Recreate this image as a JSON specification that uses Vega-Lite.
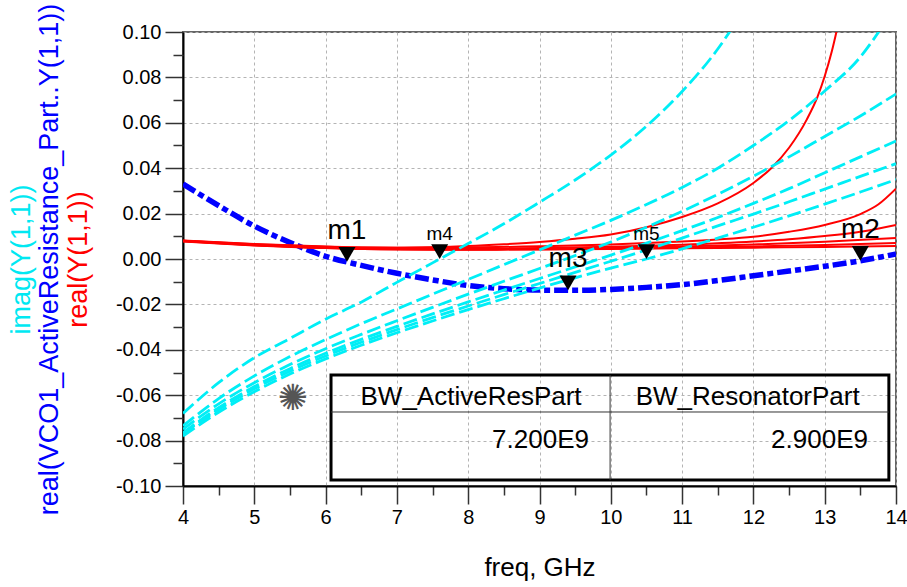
{
  "$schema": "https://vega.github.io/schema/vega-lite/v6.json",
  "width": 713,
  "height": 454,
  "autosize": {"type": "none"},
  "padding": {"left": 183, "top": 32, "right": 11, "bottom": 101},
  "background": "white",
  "config": {
    "font": "Liberation Sans",
    "view": {"stroke": "#666666", "strokeWidth": 2, "fill": "white"},
    "axis": {"labelFont": "Liberation Sans", "titleFont": "Liberation Sans", "titleFontWeight": "normal", "labelColor": "black", "labelFlush": false, "labelOverlap": false}
  },
  "datasets": {
    "active": [
      {"freq": 4, "value": 0.033}, {"freq": 4.5, "value": 0.0235}, {"freq": 5, "value": 0.0145}, {"freq": 5.5, "value": 0.0073},
      {"freq": 6, "value": 0.0012}, {"freq": 6.5, "value": -0.0028}, {"freq": 7, "value": -0.0063}, {"freq": 7.5, "value": -0.0092},
      {"freq": 8, "value": -0.0117}, {"freq": 8.5, "value": -0.0131}, {"freq": 9, "value": -0.0137}, {"freq": 9.5, "value": -0.0138},
      {"freq": 10, "value": -0.0134}, {"freq": 10.5, "value": -0.0125}, {"freq": 11, "value": -0.0113}, {"freq": 11.5, "value": -0.0095},
      {"freq": 12, "value": -0.0074}, {"freq": 12.5, "value": -0.0053}, {"freq": 13, "value": -0.0032}, {"freq": 13.5, "value": -0.0008},
      {"freq": 14, "value": 0.0022}
    ],
    "realY": [
      {"trace": "R1", "freq": 4, "value": 0.0082}, {"trace": "R1", "freq": 5, "value": 0.0066}, {"trace": "R1", "freq": 6, "value": 0.0055},
      {"trace": "R1", "freq": 6.5, "value": 0.0051}, {"trace": "R1", "freq": 7, "value": 0.005}, {"trace": "R1", "freq": 7.5, "value": 0.0052},
      {"trace": "R1", "freq": 8, "value": 0.0057}, {"trace": "R1", "freq": 8.5, "value": 0.0065}, {"trace": "R1", "freq": 9, "value": 0.0075},
      {"trace": "R1", "freq": 9.5, "value": 0.0089}, {"trace": "R1", "freq": 10, "value": 0.0108}, {"trace": "R1", "freq": 10.5, "value": 0.014},
      {"trace": "R1", "freq": 11, "value": 0.0185}, {"trace": "R1", "freq": 11.5, "value": 0.0245}, {"trace": "R1", "freq": 12, "value": 0.0335},
      {"trace": "R1", "freq": 12.25, "value": 0.04}, {"trace": "R1", "freq": 12.5, "value": 0.049}, {"trace": "R1", "freq": 12.75, "value": 0.0615},
      {"trace": "R1", "freq": 12.9, "value": 0.0715}, {"trace": "R1", "freq": 13, "value": 0.0805}, {"trace": "R1", "freq": 13.1, "value": 0.0915},
      {"trace": "R1", "freq": 13.2, "value": 0.105},
      {"trace": "R2", "freq": 4, "value": 0.008}, {"trace": "R2", "freq": 5, "value": 0.0065}, {"trace": "R2", "freq": 6, "value": 0.0054},
      {"trace": "R2", "freq": 7, "value": 0.005}, {"trace": "R2", "freq": 8, "value": 0.0051}, {"trace": "R2", "freq": 9, "value": 0.0056},
      {"trace": "R2", "freq": 10, "value": 0.0064}, {"trace": "R2", "freq": 10.5, "value": 0.007}, {"trace": "R2", "freq": 11, "value": 0.0077},
      {"trace": "R2", "freq": 11.5, "value": 0.0086}, {"trace": "R2", "freq": 12, "value": 0.0098}, {"trace": "R2", "freq": 12.5, "value": 0.012},
      {"trace": "R2", "freq": 13, "value": 0.015}, {"trace": "R2", "freq": 13.5, "value": 0.0198}, {"trace": "R2", "freq": 13.75, "value": 0.024},
      {"trace": "R2", "freq": 14, "value": 0.031},
      {"trace": "R3", "freq": 4, "value": 0.008}, {"trace": "R3", "freq": 5, "value": 0.0063}, {"trace": "R3", "freq": 6, "value": 0.0051},
      {"trace": "R3", "freq": 7, "value": 0.0046}, {"trace": "R3", "freq": 8, "value": 0.0045}, {"trace": "R3", "freq": 9, "value": 0.0048},
      {"trace": "R3", "freq": 10, "value": 0.0054}, {"trace": "R3", "freq": 11, "value": 0.0063}, {"trace": "R3", "freq": 12, "value": 0.0077},
      {"trace": "R3", "freq": 12.5, "value": 0.0087}, {"trace": "R3", "freq": 13, "value": 0.0101}, {"trace": "R3", "freq": 13.5, "value": 0.012},
      {"trace": "R3", "freq": 14, "value": 0.015},
      {"trace": "R4", "freq": 4, "value": 0.0079}, {"trace": "R4", "freq": 5, "value": 0.0062}, {"trace": "R4", "freq": 6, "value": 0.005},
      {"trace": "R4", "freq": 7, "value": 0.0044}, {"trace": "R4", "freq": 8, "value": 0.0043}, {"trace": "R4", "freq": 9, "value": 0.0045},
      {"trace": "R4", "freq": 10, "value": 0.0049}, {"trace": "R4", "freq": 11, "value": 0.0055}, {"trace": "R4", "freq": 12, "value": 0.0064},
      {"trace": "R4", "freq": 13, "value": 0.0076}, {"trace": "R4", "freq": 14, "value": 0.0093},
      {"trace": "R5", "freq": 4, "value": 0.0078}, {"trace": "R5", "freq": 5, "value": 0.0061}, {"trace": "R5", "freq": 6, "value": 0.0049},
      {"trace": "R5", "freq": 7, "value": 0.0043}, {"trace": "R5", "freq": 8, "value": 0.0042}, {"trace": "R5", "freq": 9, "value": 0.0043},
      {"trace": "R5", "freq": 10, "value": 0.0046}, {"trace": "R5", "freq": 11, "value": 0.005}, {"trace": "R5", "freq": 12, "value": 0.0055},
      {"trace": "R5", "freq": 13, "value": 0.0062}, {"trace": "R5", "freq": 14, "value": 0.007},
      {"trace": "R6", "freq": 4, "value": 0.0077}, {"trace": "R6", "freq": 5, "value": 0.006}, {"trace": "R6", "freq": 6, "value": 0.0048},
      {"trace": "R6", "freq": 7, "value": 0.0042}, {"trace": "R6", "freq": 8, "value": 0.0041}, {"trace": "R6", "freq": 9, "value": 0.0042},
      {"trace": "R6", "freq": 10, "value": 0.0044}, {"trace": "R6", "freq": 11, "value": 0.0047}, {"trace": "R6", "freq": 12, "value": 0.005},
      {"trace": "R6", "freq": 13, "value": 0.0053}, {"trace": "R6", "freq": 14, "value": 0.0057}
    ],
    "imag": [
      {"trace": "C1", "freq": 4, "value": -0.068}, {"trace": "C1", "freq": 4.5, "value": -0.0545}, {"trace": "C1", "freq": 5, "value": -0.0435},
      {"trace": "C1", "freq": 5.5, "value": -0.035}, {"trace": "C1", "freq": 6, "value": -0.0265}, {"trace": "C1", "freq": 6.5, "value": -0.019},
      {"trace": "C1", "freq": 7, "value": -0.0103}, {"trace": "C1", "freq": 7.5, "value": -0.0017}, {"trace": "C1", "freq": 8, "value": 0.0068},
      {"trace": "C1", "freq": 8.5, "value": 0.0155}, {"trace": "C1", "freq": 9, "value": 0.025}, {"trace": "C1", "freq": 9.5, "value": 0.0348},
      {"trace": "C1", "freq": 10, "value": 0.0458}, {"trace": "C1", "freq": 10.5, "value": 0.0585}, {"trace": "C1", "freq": 11, "value": 0.0738},
      {"trace": "C1", "freq": 11.5, "value": 0.0925}, {"trace": "C1", "freq": 11.75, "value": 0.104},
      {"trace": "C2", "freq": 4, "value": -0.0735}, {"trace": "C2", "freq": 4.5, "value": -0.0615}, {"trace": "C2", "freq": 5, "value": -0.0515},
      {"trace": "C2", "freq": 5.5, "value": -0.043}, {"trace": "C2", "freq": 6, "value": -0.0355}, {"trace": "C2", "freq": 6.5, "value": -0.0285},
      {"trace": "C2", "freq": 7, "value": -0.022}, {"trace": "C2", "freq": 7.5, "value": -0.0155}, {"trace": "C2", "freq": 8, "value": -0.009},
      {"trace": "C2", "freq": 8.5, "value": -0.0025}, {"trace": "C2", "freq": 9, "value": 0.004}, {"trace": "C2", "freq": 9.5, "value": 0.0105},
      {"trace": "C2", "freq": 10, "value": 0.017}, {"trace": "C2", "freq": 10.5, "value": 0.024}, {"trace": "C2", "freq": 11, "value": 0.0315},
      {"trace": "C2", "freq": 11.5, "value": 0.04}, {"trace": "C2", "freq": 12, "value": 0.05}, {"trace": "C2", "freq": 12.5, "value": 0.061},
      {"trace": "C2", "freq": 13, "value": 0.074}, {"trace": "C2", "freq": 13.5, "value": 0.089}, {"trace": "C2", "freq": 13.8, "value": 0.102},
      {"trace": "C3", "freq": 4, "value": -0.075}, {"trace": "C3", "freq": 4.5, "value": -0.0638}, {"trace": "C3", "freq": 5, "value": -0.0545},
      {"trace": "C3", "freq": 5.5, "value": -0.0465}, {"trace": "C3", "freq": 6, "value": -0.0395}, {"trace": "C3", "freq": 6.5, "value": -0.0332},
      {"trace": "C3", "freq": 7, "value": -0.0272}, {"trace": "C3", "freq": 7.5, "value": -0.0213}, {"trace": "C3", "freq": 8, "value": -0.0155},
      {"trace": "C3", "freq": 8.5, "value": -0.0098}, {"trace": "C3", "freq": 9, "value": -0.0042}, {"trace": "C3", "freq": 9.5, "value": 0.0015},
      {"trace": "C3", "freq": 10, "value": 0.0075}, {"trace": "C3", "freq": 10.5, "value": 0.014}, {"trace": "C3", "freq": 11, "value": 0.021},
      {"trace": "C3", "freq": 11.5, "value": 0.0285}, {"trace": "C3", "freq": 12, "value": 0.0365}, {"trace": "C3", "freq": 12.5, "value": 0.045},
      {"trace": "C3", "freq": 13, "value": 0.054}, {"trace": "C3", "freq": 13.5, "value": 0.063}, {"trace": "C3", "freq": 14, "value": 0.0727},
      {"trace": "C4", "freq": 4, "value": -0.0765}, {"trace": "C4", "freq": 4.5, "value": -0.0655}, {"trace": "C4", "freq": 5, "value": -0.0562},
      {"trace": "C4", "freq": 5.5, "value": -0.0483}, {"trace": "C4", "freq": 6, "value": -0.0415}, {"trace": "C4", "freq": 6.5, "value": -0.0354},
      {"trace": "C4", "freq": 7, "value": -0.0297}, {"trace": "C4", "freq": 7.5, "value": -0.0242}, {"trace": "C4", "freq": 8, "value": -0.0189},
      {"trace": "C4", "freq": 8.5, "value": -0.0137}, {"trace": "C4", "freq": 9, "value": -0.0086}, {"trace": "C4", "freq": 9.5, "value": -0.0035},
      {"trace": "C4", "freq": 10, "value": 0.0017}, {"trace": "C4", "freq": 10.5, "value": 0.007}, {"trace": "C4", "freq": 11, "value": 0.0125},
      {"trace": "C4", "freq": 11.5, "value": 0.0183}, {"trace": "C4", "freq": 12, "value": 0.0245}, {"trace": "C4", "freq": 12.5, "value": 0.031},
      {"trace": "C4", "freq": 13, "value": 0.038}, {"trace": "C4", "freq": 13.5, "value": 0.045}, {"trace": "C4", "freq": 14, "value": 0.052},
      {"trace": "C5", "freq": 4, "value": -0.077}, {"trace": "C5", "freq": 4.5, "value": -0.0663}, {"trace": "C5", "freq": 5, "value": -0.0572},
      {"trace": "C5", "freq": 5.5, "value": -0.0494}, {"trace": "C5", "freq": 6, "value": -0.0427}, {"trace": "C5", "freq": 6.5, "value": -0.0367},
      {"trace": "C5", "freq": 7, "value": -0.0311}, {"trace": "C5", "freq": 7.5, "value": -0.0258}, {"trace": "C5", "freq": 8, "value": -0.0207},
      {"trace": "C5", "freq": 8.5, "value": -0.0157}, {"trace": "C5", "freq": 9, "value": -0.0108}, {"trace": "C5", "freq": 9.5, "value": -0.0059},
      {"trace": "C5", "freq": 10, "value": -0.001}, {"trace": "C5", "freq": 10.5, "value": 0.004}, {"trace": "C5", "freq": 11, "value": 0.0092},
      {"trace": "C5", "freq": 11.5, "value": 0.0146}, {"trace": "C5", "freq": 12, "value": 0.0198}, {"trace": "C5", "freq": 12.5, "value": 0.0252},
      {"trace": "C5", "freq": 13, "value": 0.0308}, {"trace": "C5", "freq": 13.5, "value": 0.0364}, {"trace": "C5", "freq": 14, "value": 0.042},
      {"trace": "C6", "freq": 4, "value": -0.078}, {"trace": "C6", "freq": 4.5, "value": -0.0675}, {"trace": "C6", "freq": 5, "value": -0.0585},
      {"trace": "C6", "freq": 5.5, "value": -0.0507}, {"trace": "C6", "freq": 6, "value": -0.044}, {"trace": "C6", "freq": 6.5, "value": -0.038},
      {"trace": "C6", "freq": 7, "value": -0.0325}, {"trace": "C6", "freq": 7.5, "value": -0.0273}, {"trace": "C6", "freq": 8, "value": -0.0223},
      {"trace": "C6", "freq": 8.5, "value": -0.0175}, {"trace": "C6", "freq": 9, "value": -0.0128}, {"trace": "C6", "freq": 9.5, "value": -0.0083},
      {"trace": "C6", "freq": 10, "value": -0.004}, {"trace": "C6", "freq": 10.5, "value": 0.0}, {"trace": "C6", "freq": 11, "value": 0.0045},
      {"trace": "C6", "freq": 11.5, "value": 0.0092}, {"trace": "C6", "freq": 12, "value": 0.014}, {"trace": "C6", "freq": 12.5, "value": 0.019},
      {"trace": "C6", "freq": 13, "value": 0.0242}, {"trace": "C6", "freq": 13.5, "value": 0.0295}, {"trace": "C6", "freq": 14, "value": 0.035}
    ],
    "markers": [
      {"name": "m1", "freq": 6.3, "value": -0.0012, "curve": "active"},
      {"name": "m2", "freq": 13.5, "value": -0.0008, "curve": "active"},
      {"name": "m3", "freq": 9.4, "value": -0.0138, "curve": "active"},
      {"name": "m4", "freq": 7.6, "value": 0.0, "curve": "resonator"},
      {"name": "m5", "freq": 10.5, "value": 0.0, "curve": "resonator"}
    ],
    "tableBox": [
      {"f1": 6.076, "f2": 13.9, "v1": -0.0511, "v2": -0.0974}
    ],
    "tableLines": [
      {"f1": 6.076, "f2": 13.9, "v1": -0.0674, "v2": -0.0674},
      {"f1": 9.99, "f2": 9.99, "v1": -0.0511, "v2": -0.0974}
    ],
    "tableText": [
      {"text": "BW_ActiveResPart", "freq": 8.04, "value": -0.0608, "role": "header"},
      {"text": "BW_ResonatorPart", "freq": 11.92, "value": -0.0608, "role": "header"},
      {"text": "7.200E9", "freq": 9.694, "value": -0.0797, "role": "value"},
      {"text": "2.900E9", "freq": 13.607, "value": -0.0797, "role": "value"}
    ],
    "logo": [
      {"text": "✺", "freq": 5.54, "value": -0.0615}
    ]
  },
  "layer": [
    {
      "data": {"name": "active"},
      "mark": {"type": "line", "color": "#0000ff", "strokeWidth": 5.5, "strokeDash": [14, 4, 6, 4], "interpolate": "monotone", "clip": true},
      "encoding": {
        "x": {"field": "freq", "type": "quantitative", "scale": {"domain": [4, 14], "nice": false, "zero": false}, "axis": null},
        "y": {"field": "value", "type": "quantitative", "scale": {"domain": [-0.1, 0.1], "nice": false, "zero": false},
          "axis": {"orient": "left", "title": "real(VCO1_ActiveResistance_Part..Y(1,1))", "titleColor": "#0000ff", "titleFontSize": 27, "titleX": -126, "titleY": 227, "titleAngle": 270, "titleBaseline": "alphabetic", "titleAlign": "center", "labels": false, "ticks": false, "domain": false, "grid": false}}
      }
    },
    {
      "data": {"name": "realY"},
      "mark": {"type": "line", "color": "#ff0000", "strokeWidth": 2, "interpolate": "monotone", "clip": true},
      "encoding": {
        "x": {"field": "freq", "type": "quantitative", "scale": {"domain": [4, 14], "nice": false, "zero": false},
          "axis": {"orient": "bottom", "title": null, "values": [4.5, 5.5, 6.5, 7.5, 8.5, 9.5, 10.5, 11.5, 12.5, 13.5], "labels": false, "domain": false, "grid": false, "tickSize": 9, "tickColor": "#333", "tickWidth": 1.5}},
        "y": {"field": "value", "type": "quantitative", "scale": {"domain": [-0.1, 0.1], "nice": false, "zero": false},
          "axis": {"orient": "left", "title": "real(Y(1,1))", "titleColor": "#ff0000", "titleFontSize": 27, "titleX": -97, "titleY": 227, "titleAngle": 270, "titleBaseline": "alphabetic", "titleAlign": "center",
            "values": [-0.1, -0.08, -0.06, -0.04, -0.02, 0, 0.02, 0.04, 0.06, 0.08, 0.1], "format": ".2f", "labelExpr": "replace(datum.label, '−', '-')",
            "labelFontSize": 20, "labelPadding": 4, "tickSize": 18, "tickColor": "#333", "tickWidth": 1.5,
            "domainColor": "#000000", "domainWidth": 2, "grid": true, "gridColor": "#b4b4b4", "gridDash": [3, 3], "gridWidth": 1}},
        "detail": {"field": "trace", "type": "nominal"}
      }
    },
    {
      "data": {"name": "imag"},
      "mark": {"type": "line", "color": "#00eef6", "strokeWidth": 2.8, "strokeDash": [14, 5], "interpolate": "monotone", "clip": true},
      "encoding": {
        "x": {"field": "freq", "type": "quantitative", "scale": {"domain": [4, 14], "nice": false, "zero": false},
          "axis": {"orient": "bottom", "title": "freq, GHz", "titleFontSize": 26, "titleY": 89, "titleBaseline": "alphabetic", "titleColor": "#000000",
            "values": [4, 5, 6, 7, 8, 9, 10, 11, 12, 13, 14], "format": "d", "labelFontSize": 20, "labelPadding": 3,
            "tickSize": 18, "tickColor": "#333", "tickWidth": 1.5, "domainColor": "#000000", "domainWidth": 2,
            "grid": true, "gridColor": "#b4b4b4", "gridDash": [3, 3], "gridWidth": 1}},
        "y": {"field": "value", "type": "quantitative", "scale": {"domain": [-0.1, 0.1], "nice": false, "zero": false},
          "axis": {"orient": "left", "title": "imag(Y(1,1))", "titleColor": "#00e8f2", "titleFontSize": 27, "titleX": -154, "titleY": 227, "titleAngle": 270, "titleBaseline": "alphabetic", "titleAlign": "center",
            "values": [-0.09, -0.07, -0.05, -0.03, -0.01, 0.01, 0.03, 0.05, 0.07, 0.09], "labels": false, "domain": false, "grid": false, "tickSize": 10, "tickColor": "#333", "tickWidth": 1.5}},
        "detail": {"field": "trace", "type": "nominal"}
      }
    },
    {
      "data": {"name": "tableBox"},
      "mark": {"type": "rect", "filled": false, "color": "#000000", "strokeWidth": 3},
      "encoding": {
        "x": {"field": "f1", "type": "quantitative", "scale": {"domain": [4, 14], "nice": false, "zero": false}, "axis": null},
        "x2": {"field": "f2"},
        "y": {"field": "v1", "type": "quantitative", "scale": {"domain": [-0.1, 0.1], "nice": false, "zero": false}, "axis": null},
        "y2": {"field": "v2"}
      }
    },
    {
      "data": {"name": "tableLines"},
      "mark": {"type": "rule", "color": "#333333", "strokeWidth": 1},
      "encoding": {
        "x": {"field": "f1", "type": "quantitative", "scale": {"domain": [4, 14], "nice": false, "zero": false}, "axis": null},
        "x2": {"field": "f2"},
        "y": {"field": "v1", "type": "quantitative", "scale": {"domain": [-0.1, 0.1], "nice": false, "zero": false}, "axis": null},
        "y2": {"field": "v2"}
      }
    },
    {
      "data": {"name": "tableText"},
      "transform": [{"filter": "datum.role === 'header'"}],
      "mark": {"type": "text", "align": "center", "baseline": "middle", "fontSize": 26, "color": "#000000", "font": "Liberation Sans"},
      "encoding": {
        "x": {"field": "freq", "type": "quantitative", "scale": {"domain": [4, 14], "nice": false, "zero": false}, "axis": null},
        "y": {"field": "value", "type": "quantitative", "scale": {"domain": [-0.1, 0.1], "nice": false, "zero": false}, "axis": null},
        "text": {"field": "text"}
      }
    },
    {
      "data": {"name": "tableText"},
      "transform": [{"filter": "datum.role === 'value'"}],
      "mark": {"type": "text", "align": "right", "baseline": "middle", "fontSize": 26, "color": "#000000", "font": "Liberation Sans"},
      "encoding": {
        "x": {"field": "freq", "type": "quantitative", "scale": {"domain": [4, 14], "nice": false, "zero": false}, "axis": null},
        "y": {"field": "value", "type": "quantitative", "scale": {"domain": [-0.1, 0.1], "nice": false, "zero": false}, "axis": null},
        "text": {"field": "text"}
      }
    },
    {
      "data": {"name": "logo"},
      "mark": {"type": "text", "align": "center", "baseline": "middle", "fontSize": 36, "color": "#555555", "font": "DejaVu Sans"},
      "encoding": {
        "x": {"field": "freq", "type": "quantitative", "scale": {"domain": [4, 14], "nice": false, "zero": false}, "axis": null},
        "y": {"field": "value", "type": "quantitative", "scale": {"domain": [-0.1, 0.1], "nice": false, "zero": false}, "axis": null},
        "text": {"field": "text"}
      }
    },
    {
      "data": {"name": "markers"},
      "mark": {"type": "point", "shape": "triangle-down", "size": 290, "filled": true, "color": "#000000", "opacity": 1, "yOffset": -7.4},
      "encoding": {
        "x": {"field": "freq", "type": "quantitative", "scale": {"domain": [4, 14], "nice": false, "zero": false}, "axis": null},
        "y": {"field": "value", "type": "quantitative", "scale": {"domain": [-0.1, 0.1], "nice": false, "zero": false}, "axis": null}
      }
    },
    {
      "data": {"name": "markers"},
      "transform": [{"filter": "datum.curve === 'active'"}],
      "mark": {"type": "text", "align": "center", "baseline": "alphabetic", "fontSize": 28, "dy": -23, "color": "#000000", "font": "Liberation Sans"},
      "encoding": {
        "x": {"field": "freq", "type": "quantitative", "scale": {"domain": [4, 14], "nice": false, "zero": false}, "axis": null},
        "y": {"field": "value", "type": "quantitative", "scale": {"domain": [-0.1, 0.1], "nice": false, "zero": false}, "axis": null},
        "text": {"field": "name"}
      }
    },
    {
      "data": {"name": "markers"},
      "transform": [{"filter": "datum.curve === 'resonator'"}],
      "mark": {"type": "text", "align": "center", "baseline": "alphabetic", "fontSize": 19, "dy": -19, "color": "#000000", "font": "Liberation Sans"},
      "encoding": {
        "x": {"field": "freq", "type": "quantitative", "scale": {"domain": [4, 14], "nice": false, "zero": false}, "axis": null},
        "y": {"field": "value", "type": "quantitative", "scale": {"domain": [-0.1, 0.1], "nice": false, "zero": false}, "axis": null},
        "text": {"field": "name"}
      }
    }
  ],
  "resolve": {"axis": {"x": "independent", "y": "independent"}}
}
